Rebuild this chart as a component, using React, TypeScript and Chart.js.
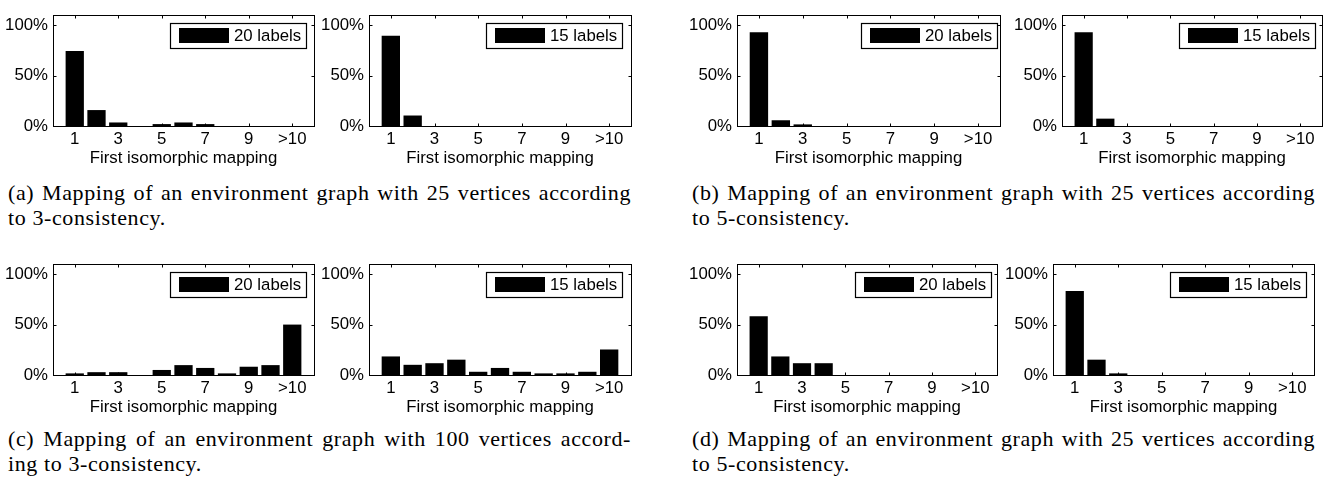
import React, { useEffect, useRef } from 'react';
import { Chart, registerables } from 'chart.js';

Chart.register(...registerables);

// ---------------- data ----------------
const CATEGORIES = ['', '1', '2', '3', '4', '5', '6', '7', '8', '9', '10', '>10', ''];
const SHOWN_TICKS = ['1', '3', '5', '7', '9', '>10'];
const Y_TICKS = [0, 50, 100];
const Y_MAX = 110;
const X_TITLE = 'First isomorphic mapping';
const LEGEND_20 = '20 labels';
const LEGEND_15 = '15 labels';

// values in percent for the 11 bins 1..10, >10
const A_20 = [74.4, 15.8, 3.5, 0, 1.9, 3.5, 1.9, 0, 0, 0, 0];
const A_15 = [89.6, 10.4, 0, 0, 0, 0, 0, 0, 0, 0, 0];
const B_20 = [93, 5.7, 1.6, 0, 0, 0, 0, 0, 0, 0, 0];
const B_15 = [93, 7.3, 0, 0, 0, 0, 0, 0, 0, 0, 0];
const C_20 = [1.6, 2.8, 2.8, 0, 5, 9.8, 7, 1.6, 8.2, 9.8, 50];
const C_15 = [18.4, 10.1, 11.7, 15.2, 3.2, 7, 3.2, 1.6, 1.6, 3.2, 25.3];
const D_20 = [58.2, 18.4, 11.7, 11.7, 0, 0, 0, 0, 0, 0, 0];
const D_15 = [83.2, 15.2, 1.6, 0, 0, 0, 0, 0, 0, 0, 0];

const CAPTION_A = ['(a) Mapping of an environment graph with 25 vertices according', 'to 3-consistency.'];
const CAPTION_B = ['(b) Mapping of an environment graph with 25 vertices according', 'to 5-consistency.'];
const CAPTION_C = ['(c) Mapping of an environment graph with 100 vertices accord-', 'ing to 3-consistency.'];
const CAPTION_D = ['(d) Mapping of an environment graph with 25 vertices according', 'to 5-consistency.'];

// ---------------- layout ----------------
const SANS = '"Liberation Sans", Arial, Helvetica, sans-serif';
const FONT_SIZE = 16.8;
const AXIS_W = 53;
const PAD_TOP = 11;
const PAD_RIGHT = 6;
const CANVAS_H = 168;
const XAXIS_H = 42;

const PANELS = [
  { values: A_20, label: LEGEND_20, left: 53, right: 314, top: 11, inset: 8 },
  { values: A_15, label: LEGEND_15, left: 369, right: 631, top: 11, inset: 9 },
  { values: B_20, label: LEGEND_20, left: 737, right: 1000, top: 11, inset: 3 },
  { values: B_15, label: LEGEND_15, left: 1062, right: 1322, top: 11, inset: 7 },
  { values: C_20, label: LEGEND_20, left: 53, right: 314, top: 260, inset: 8 },
  { values: C_15, label: LEGEND_15, left: 369, right: 631, top: 260, inset: 9 },
  { values: D_20, label: LEGEND_20, left: 737, right: 997, top: 260, inset: 6 },
  { values: D_15, label: LEGEND_15, left: 1053, right: 1314, top: 260, inset: 8 },
];

const CAPTIONS = [
  { lines: CAPTION_A, left: 8, top: 181 },
  { lines: CAPTION_B, left: 692, top: 181 },
  { lines: CAPTION_C, left: 8, top: 427 },
  { lines: CAPTION_D, left: 692, top: 427 },
];

const framePlugin = {
  id: 'matlabFrame',
  afterDatasetsDraw(chart: any) {
    const { ctx, chartArea: a, scales } = chart;
    const x = scales.x;
    const y = scales.y;
    ctx.save();
    ctx.strokeStyle = '#000';
    ctx.lineWidth = 1;
    const L = Math.round(a.left) + 0.5;
    const R = Math.round(a.right) + 0.5;
    const T = Math.round(a.top) + 0.5;
    const B = Math.round(a.bottom) + 0.5;
    ctx.strokeRect(L, T, R - L, B - T);
    ctx.beginPath();
    CATEGORIES.forEach((c, i) => {
      if (!SHOWN_TICKS.includes(c)) return;
      const px = Math.round(x.getPixelForTick(i)) + 0.5;
      ctx.moveTo(px, B);
      ctx.lineTo(px, B - 3);
      ctx.moveTo(px, T);
      ctx.lineTo(px, T + 3);
    });
    Y_TICKS.forEach((v) => {
      const py = Math.round(y.getPixelForValue(v)) + 0.5;
      ctx.moveTo(L, py);
      ctx.lineTo(L + 3, py);
      ctx.moveTo(R, py);
      ctx.lineTo(R - 3, py);
    });
    ctx.stroke();
    ctx.restore();
  },
};

const legendPlugin = {
  id: 'matlabLegend',
  afterDraw(chart: any, _args: any, opts: any) {
    const { ctx, chartArea: a } = chart;
    const label = chart.data.datasets[0].label;
    ctx.save();
    ctx.font = `${FONT_SIZE}px ${SANS}`;
    const tw = ctx.measureText(label).width;
    const w = Math.round(9 + 50 + 5 + tw + 5);
    const h = 25;
    const x = Math.round(a.right - opts.inset - w);
    const y = Math.round(a.top + 8);
    ctx.fillStyle = '#fff';
    ctx.fillRect(x, y, w, h);
    ctx.strokeStyle = '#000';
    ctx.lineWidth = 1.2;
    ctx.strokeRect(x + 0.5, y + 0.5, w, h);
    ctx.fillStyle = '#000';
    ctx.fillRect(x + 9, y + 5, 50, 15);
    ctx.textBaseline = 'middle';
    ctx.textAlign = 'left';
    ctx.fillText(label, x + 9 + 50 + 5, y + h / 2 + 1);
    ctx.restore();
  },
};

function Panel({ p }: { p: any }) {
  const ref = useRef<HTMLCanvasElement | null>(null);
  const width = p.right - p.left + AXIS_W + PAD_RIGHT;
  useEffect(() => {
    if (!ref.current) return;
    const font = { family: SANS, size: FONT_SIZE };
    const chart = new Chart(ref.current, {
      type: 'bar',
      data: {
        labels: CATEGORIES,
        datasets: [
          {
            label: p.label,
            data: [null, ...p.values, null],
            backgroundColor: '#000',
            borderWidth: 0,
            barPercentage: 0.84,
            categoryPercentage: 1,
          },
        ],
      },
      options: {
        responsive: false,
        animation: false,
        layout: { padding: { left: 0, top: PAD_TOP, right: PAD_RIGHT, bottom: 0 } },
        plugins: {
          legend: { display: false },
          tooltip: { enabled: false },
          matlabLegend: { inset: p.inset },
        } as any,
        scales: {
          x: {
            type: 'category',
            offset: false,
            grid: { display: false, drawTicks: false },
            border: { display: false },
            ticks: {
              autoSkip: false,
              maxRotation: 0,
              minRotation: 0,
              padding: 3,
              color: '#000',
              font,
              callback: (_v: any, i: number) => (SHOWN_TICKS.includes(CATEGORIES[i]) ? CATEGORIES[i] : ''),
            },
            title: { display: true, text: X_TITLE, color: '#000', font, padding: { top: 0, bottom: 0 } },
            afterFit: (s: any) => {
              s.height = XAXIS_H;
            },
          },
          y: {
            min: 0,
            max: Y_MAX,
            grid: { display: false, drawTicks: false },
            border: { display: false },
            ticks: {
              padding: 5,
              color: '#000',
              font,
              callback: (v: any) => `${v}%`,
            },
            afterBuildTicks: (s: any) => {
              s.ticks = Y_TICKS.map((v) => ({ value: v }));
            },
            afterFit: (s: any) => {
              s.width = AXIS_W;
            },
          },
        },
      },
      plugins: [framePlugin, legendPlugin],
    } as any);
    return () => chart.destroy();
  }, []);
  return (
    <canvas
      ref={ref}
      width={width}
      height={CANVAS_H}
      style={{
        position: 'absolute',
        left: p.left - AXIS_W,
        top: p.top - PAD_TOP,
        width,
        height: CANVAS_H,
      }}
    />
  );
}

const captionStyle: React.CSSProperties = {
  position: 'absolute',
  width: 623,
  fontFamily: '"Liberation Serif", "Times New Roman", serif',
  fontSize: 22,
  letterSpacing: '0.6px',
  lineHeight: '24px',
  color: '#000',
  whiteSpace: 'nowrap',
};

export default function App() {
  return (
    <div
      style={{
        position: 'absolute',
        left: 0,
        top: 0,
        width: 1332,
        height: 477,
        background: '#fff',
        overflow: 'hidden',
      }}
    >
      {PANELS.map((p, i) => (
        <Panel key={i} p={p} />
      ))}
      {CAPTIONS.map((c, i) => (
        <React.Fragment key={i}>
          <div
            style={{
              ...captionStyle,
              left: c.left,
              top: c.top,
              whiteSpace: 'normal',
              textAlign: 'justify',
              textAlignLast: 'justify',
            }}
          >
            {c.lines[0]}
          </div>
          <div style={{ ...captionStyle, left: c.left, top: c.top + 24.7 }}>{c.lines[1]}</div>
        </React.Fragment>
      ))}
    </div>
  );
}
